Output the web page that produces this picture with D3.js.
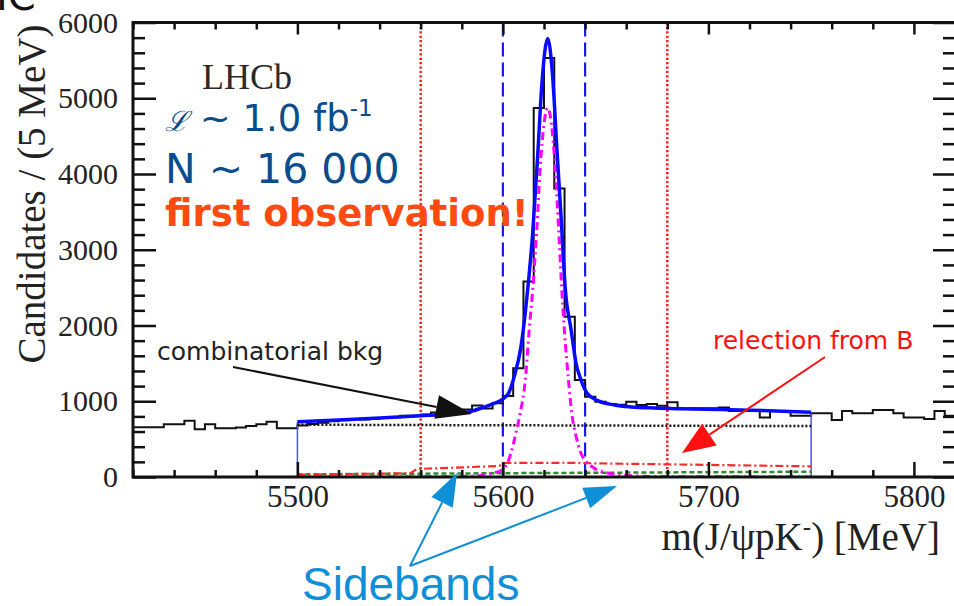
<!DOCTYPE html>
<html>
<head>
<meta charset="utf-8">
<script src="https://cdn.jsdelivr.net/npm/d3@7/dist/d3.min.js"></script>
<style>
  body { margin: 0; background: #fff; }
  svg { display: block; }
</style>
</head>
<body>
<div id="chart"></div>
<script>
// histogram, 5 MeV bins from 5420 to 5820
const binStart = 5420
const binWidth = 5
const counts = [
  656, 656, 656, 696, 696, 744, 630, 696, 643, 643,
  652, 674, 696, 731, 643, 643, 680, 700, 715, 735,
  750, 766, 760, 770, 780, 790, 810, 810, 825, 850,
  863, 870, 890, 945, 905, 975, 1070, 1436, 2580, 4870,
  5530, 3810, 2117, 1281, 1061, 995, 965, 955, 995, 951,
  964, 942, 987, 898, 907, 907, 907, 916, 872, 872,
  872, 784, 872, 872, 810, 810, 841, 841, 753, 872,
  841, 841, 885, 885, 841, 784, 784, 766, 872, 810
]

// fit components, [mass, candidates]
const fitTotal = [
  [5500, 730], [5520, 752], [5540, 778], [5560, 808], [5575, 835], [5585, 870],
  [5590, 915], [5595, 965], [5600, 1030], [5603, 1120], [5605.5, 1325], [5608.8, 1721],
  [5611.2, 2250], [5614.5, 3223], [5616.9, 4231], [5619, 5200], [5621.8, 5790],
  [5624.2, 5288], [5626.3, 4320], [5628.3, 3438], [5630.4, 2470], [5633.2, 1942],
  [5635.6, 1502], [5638, 1281], [5641, 1106], [5646.2, 1008], [5654.3, 951],
  [5662.4, 925], [5673.8, 910], [5686.8, 900], [5706, 890], [5726, 878], [5750, 855]
]
const signal = [
  [5500, 0], [5570, 2], [5585, 10], [5595.6, 53], [5600.6, 115], [5603.9, 313],
  [5606.3, 577], [5608.4, 841], [5610.9, 1281], [5612.8, 1942], [5614.6, 2500],
  [5616.4, 3223], [5618.2, 4100], [5621.8, 4870], [5625.4, 4100], [5627.2, 3223],
  [5628.6, 2500], [5629.9, 1942], [5631.9, 1281], [5633.5, 841], [5635.3, 577],
  [5638, 313], [5644.5, 115], [5651, 53], [5660, 20], [5680, 5], [5750, 0]
]
const combinatorial = [[5500, 690], [5750, 672]]
const reflection = [
  [5500, 30], [5555, 50], [5558, 105], [5575, 122], [5598, 145], [5601, 185],
  [5630, 188], [5650, 178], [5700, 160], [5750, 140]
]
const otherBkg = [[5500, 35], [5600, 50], [5750, 70]]

const fitRange = [5500, 5750]
const signalWindow = [5600, 5640]
const sidebandEdges = [5560, 5680]

const xMajor = [5500, 5600, 5700, 5800]
const xMinor = d3.range(5420, 5821, 20).filter(d => d % 100 != 0)
const yMajor = [0, 1000, 2000, 3000, 4000, 5000, 6000]
const yMinor = d3.range(0, 6001, 200).filter(d => d % 1000 != 0)

let width = 954
let height = 606

let svg = d3.select("#chart")
  .append("svg")
  .attr("width", width)
  .attr("height", height)

let x = d3.scaleLinear().domain([5420, 5820]).range([133, 955])
let y = d3.scaleLinear().domain([0, 6000]).range([477, 22.5])

const serif = "'Liberation Serif', 'Times New Roman', serif"
const sans = "'DejaVu Sans', sans-serif"

svg.append("clipPath").attr("id", "plot")
  .append("rect")
  .attr("x", 133).attr("y", 22.5)
  .attr("width", 822).attr("height", 454.5)

let plot = svg.append("g").attr("clip-path", "url(#plot)")

// vertical window lines
plot.selectAll(".sb")
  .data(sidebandEdges)
  .enter().append("line")
    .attr("x1", d => x(d)).attr("x2", d => x(d))
    .attr("y1", y(6000)).attr("y2", y(0))
    .attr("stroke", "#ff1a1a")
    .attr("stroke-width", 2.5)
    .attr("stroke-dasharray", "2.2,2.2")

plot.selectAll(".sw")
  .data(signalWindow)
  .enter().append("line")
    .attr("x1", d => x(d)).attr("x2", d => x(d))
    .attr("y1", y(6000)).attr("y2", y(0))
    .attr("stroke", "#1a1aee")
    .attr("stroke-width", 2.2)
    .attr("stroke-dasharray", "14,6")

// histogram
let binData = counts.map((c, i) => [binStart + i * binWidth, c])
binData.push([binStart + counts.length * binWidth, counts[counts.length - 1]])

plot.append("path")
  .datum(binData)
  .attr("fill", "none")
  .attr("stroke", "#111")
  .attr("stroke-width", 2)
  .attr("d", d3.line().x(d => x(d[0])).y(d => y(d[1])).curve(d3.curveStepAfter))

let smooth = d3.line().x(d => x(d[0])).y(d => y(d[1])).curve(d3.curveMonotoneX)
let straight = d3.line().x(d => x(d[0])).y(d => y(d[1]))

// fit range box
plot.selectAll(".fr")
  .data(fitRange)
  .enter().append("line")
    .attr("x1", d => x(d)).attr("x2", d => x(d))
    .attr("y1", y(0))
    .attr("y2", (d, i) => y(i == 0 ? fitTotal[0][1] : fitTotal[fitTotal.length - 1][1]))
    .attr("stroke", "#5050ff")
    .attr("stroke-width", 1.5)

plot.append("path").datum(otherBkg)
  .attr("fill", "none").attr("stroke", "#2e8b2e")
  .attr("stroke-width", 2.5).attr("stroke-dasharray", "5,3")
  .attr("d", straight)

plot.append("path").datum(reflection)
  .attr("fill", "none").attr("stroke", "#ff2a2a")
  .attr("stroke-width", 2.2).attr("stroke-dasharray", "8,3,2,3")
  .attr("d", straight)

plot.append("path").datum(combinatorial)
  .attr("fill", "none").attr("stroke", "#111")
  .attr("stroke-width", 2.5).attr("stroke-dasharray", "2,2")
  .attr("d", straight)

plot.append("path").datum(signal)
  .attr("fill", "none").attr("stroke", "#ff00ff")
  .attr("stroke-width", 3).attr("stroke-dasharray", "8,4,2,4")
  .attr("d", smooth)

plot.append("path").datum(fitTotal)
  .attr("fill", "none").attr("stroke", "#0a0aff")
  .attr("stroke-width", 3.5)
  .attr("d", smooth)

// axes (ticks pointing inward)
function ticks(axis, vals, size, tr, labels) {
  let g = svg.append("g").attr("transform", tr)
    .call(axis.tickValues(vals).tickSize(-size).tickPadding(labels ? 8 : 0)
      .tickFormat(labels ? d3.format("d") : ""))
  g.select(".domain").remove()
  g.selectAll("line").attr("stroke", "#111").attr("stroke-width", 2.5)
  g.selectAll("text")
    .style("font-family", serif)
    .style("font-size", "30px")
    .attr("fill", "#222")
  return g
}
ticks(d3.axisBottom(x), xMajor, 15, "translate(0,477)", true)
  .selectAll("text").style("font-size", "31px")
ticks(d3.axisBottom(x), xMinor, 7, "translate(0,477)", false)
ticks(d3.axisTop(x), xMajor, 12, "translate(0,22.5)", false)
ticks(d3.axisTop(x), xMinor, 7, "translate(0,22.5)", false)
ticks(d3.axisLeft(y), yMajor, 23, "translate(133,0)", true)
  .selectAll("text").attr("dx", "-7")
ticks(d3.axisLeft(y), yMinor, 12, "translate(133,0)", false)
ticks(d3.axisRight(y), yMajor, 22, "translate(955,0)", false)
ticks(d3.axisRight(y), yMinor, 12, "translate(955,0)", false)

// frame
svg.append("path")
  .attr("d", `M955,22.5 H133 V477 H955`)
  .attr("fill", "none")
  .attr("stroke", "#111")
  .attr("stroke-width", 3)

// cut-off heading remnant at the very top
svg.append("text")
  .attr("x", -4).attr("y", 10)
  .style("font-family", sans).style("font-size", "40px")
  .attr("fill", "#111")
  .text("IC")

// axis titles
svg.append("text")
  .attr("transform", "translate(45,194) rotate(-90)")
  .attr("text-anchor", "middle")
  .style("font-family", serif)
  .style("font-size", "39px")
  .attr("fill", "#222")
  .text("Candidates / (5 MeV)")

let xt = svg.append("text")
  .attr("x", 940).attr("y", 550)
  .attr("text-anchor", "end")
  .style("font-family", serif)
  .style("font-size", "39px")
  .attr("fill", "#222")
xt.append("tspan").text("m(J/ψpK")
xt.append("tspan").attr("dy", -15).style("font-size", "25px").text("-")
xt.append("tspan").attr("dy", 15).text(") [MeV]")

// labels
svg.append("text")
  .attr("x", 202).attr("y", 89)
  .style("font-family", serif).style("font-size", "36px")
  .attr("fill", "#2a2a2a")
  .text("LHCb")

let lumi = svg.append("text")
  .attr("x", 165).attr("y", 131)
  .style("font-family", sans).style("font-size", "37px")
  .attr("fill", "#0b4c8c")
lumi.append("tspan").style("font-family", "'DejaVu Serif', serif").style("font-style", "italic")
  .style("font-size", "28px").text("ℒ")
lumi.append("tspan").text(" ~ 1.0 fb")
lumi.append("tspan").attr("dy", -15).style("font-size", "23px").text("-1")

svg.append("text")
  .attr("x", 165).attr("y", 183)
  .style("font-family", sans).style("font-size", "41px")
  .attr("fill", "#0b4c8c")
  .text("N ~ 16 000")

svg.append("text")
  .attr("x", 165).attr("y", 226)
  .style("font-family", sans).style("font-size", "37px")
  .style("font-weight", "bold")
  .attr("fill", "#ff4a12")
  .text("first observation!")

svg.append("text")
  .attr("x", 157).attr("y", 360)
  .style("font-family", sans).style("font-size", "25px")
  .attr("fill", "#222")
  .text("combinatorial bkg")

svg.append("text")
  .attr("x", 713).attr("y", 349)
  .style("font-family", sans).style("font-size", "25px")
  .attr("fill", "#ff1010")
  .text("relection from B")

svg.append("text")
  .attr("x", 302).attr("y", 600)
  .style("font-family", "'Liberation Sans', Arial, sans-serif").style("font-size", "46px")
  .attr("fill", "#0f8fd6")
  .text("Sidebands")

// arrows
function arrow(x1, y1, x2, y2, len, half, color, w) {
  let a = Math.atan2(y2 - y1, x2 - x1)
  let bx = x2 - len * Math.cos(a), by = y2 - len * Math.sin(a)
  let px = -Math.sin(a) * half, py = Math.cos(a) * half
  svg.append("line")
    .attr("x1", x1).attr("y1", y1).attr("x2", bx).attr("y2", by)
    .attr("stroke", color).attr("stroke-width", w)
  svg.append("polygon")
    .attr("points", [[x2, y2], [bx + px, by + py], [bx - px, by - py]].map(p => p.join(",")).join(" "))
    .attr("fill", color)
}
arrow(233, 367, 472, 414, 36, 12, "#111", 2)
arrow(825, 357, 682, 453, 33, 13, "#ff1010", 2)
arrow(410, 566, 457, 473, 33, 12, "#0f8fd6", 2)
arrow(410, 566, 617, 486, 33, 11, "#0f8fd6", 2)
</script>
</body>
</html>
